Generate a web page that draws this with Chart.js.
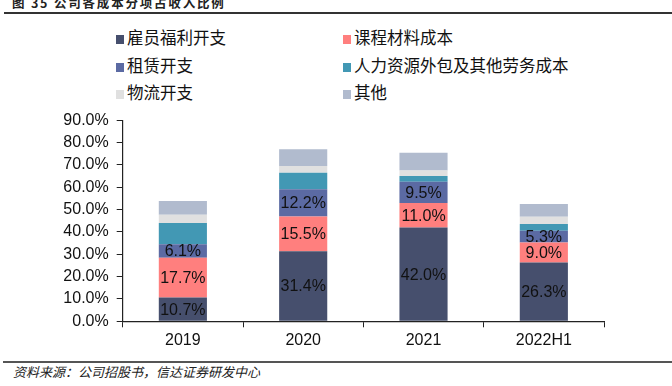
<!DOCTYPE html>
<html><head><meta charset="utf-8">
<script src="https://cdn.jsdelivr.net/npm/chart.js@4/dist/chart.umd.min.js"></script>
<style>
body{margin:0;width:672px;height:386px;background:#fff;position:relative;overflow:hidden;font-family:"Noto Sans CJK SC",sans-serif}
#title{position:absolute;left:12px;top:-4px;font-size:12.5px;font-weight:bold;color:#222;white-space:nowrap;line-height:14px;letter-spacing:1.8px}
#tline{position:absolute;left:4px;right:0;top:12px;height:1.5px;background:#333}
#fline{position:absolute;left:3px;right:0;top:361px;height:1.5px;background:#555}
#foot{position:absolute;left:13px;top:364px;font-size:13px;font-style:italic;color:#222;white-space:nowrap;line-height:16px}
.lg{position:absolute;font-size:16.5px;color:#111;white-space:nowrap;line-height:20px}
.lg i{display:inline-block;width:8px;height:9px;margin-right:3px;vertical-align:0px}
#c{position:absolute;left:0;top:100px}
</style></head>
<body>
<div id="title">图 35 公司各成本分项占收入比例</div>
<div id="tline"></div>
<div id="legend"></div>
<canvas id="c" width="672" height="260"></canvas>
<div id="fline"></div>
<div id="foot">资料来源：公司招股书，信达证券研发中心</div>
<script>
const categories = ['2019', '2020', '2021', '2022H1'];
const seriesNames = ['雇员福利开支', '课程材料成本', '租赁开支', '人力资源外包及其他劳务成本', '物流开支', '其他'];
const employeeBenefits = [10.7, 31.4, 42.0, 26.3];
const courseMaterials = [17.7, 15.5, 11.0, 9.0];
const leaseExpenses = [6.1, 12.2, 9.5, 5.3];
const hrOutsourcing = [9.5, 7.4, 2.6, 3.0];
const logistics = [3.7, 3.0, 2.4, 3.2];
const others = [6.2, 7.5, 8.0, 5.7];
const yTicks = [0, 10, 20, 30, 40, 50, 60, 70, 80, 90];
const labeledSeries = [0, 1, 2];

const seriesValues = [employeeBenefits, courseMaterials, leaseExpenses, hrOutsourcing, logistics, others];
const colors = ['#464F6D', '#FF7F7E', '#5B6AA3', '#4298B4', '#E0E0E0', '#B1BBCE'];

// legend (2 columns)
const legendPos = [[116, 27], [343, 27], [116, 55], [343, 55], [116, 82], [343, 82]];
const lg = document.getElementById('legend');
seriesNames.forEach((n, i) => {
  const d = document.createElement('div');
  d.className = 'lg';
  d.style.left = legendPos[i][0] + 'px';
  d.style.top = legendPos[i][1] + 'px';
  d.innerHTML = '<i style="background:' + colors[i] + '"></i>' + n;
  lg.appendChild(d);
});

const labelPlugin = {
  id: 'segLabels',
  afterDatasetsDraw(chart) {
    const ctx = chart.ctx;
    ctx.save();
    ctx.font = '16px "Liberation Sans", Arial, sans-serif';
    ctx.fillStyle = '#111';
    ctx.textAlign = 'center';
    ctx.textBaseline = 'middle';
    labeledSeries.forEach(di => {
      const meta = chart.getDatasetMeta(di);
      meta.data.forEach((el, j) => {
        const v = chart.data.datasets[di].data[j];
        ctx.fillText(v.toFixed(1) + '%', el.x, (el.y + el.base) / 2 + 1);
      });
    });
    ctx.restore();
  }
};

new Chart(document.getElementById('c'), {
  type: 'bar',
  data: {
    labels: categories,
    datasets: seriesValues.map((vals, i) => ({
      label: seriesNames[i],
      data: vals,
      backgroundColor: colors[i],
      borderWidth: 0,
      barPercentage: 0.8,
      categoryPercentage: 0.5
    }))
  },
  options: {
    responsive: false,
    animation: false,
    layout: { padding: { top: 20.3, right: 68, left: 0, bottom: 0 } },
    plugins: { legend: { display: false }, tooltip: { enabled: false } },
    scales: {
      x: {
        stacked: true,
        grid: { drawOnChartArea: false, drawTicks: true, tickLength: 6, color: '#222', offset: true },
        border: { color: '#222', width: 1.2 },
        ticks: { font: { size: 16, family: '"Liberation Sans", Arial' }, color: '#111', padding: 4 },
        afterFit: s => { s.height = 38.7; }
      },
      y: {
        stacked: true,
        min: 0, max: 90,
        afterBuildTicks: s => { s.ticks = yTicks.map(v => ({ value: v })); },
        grid: { drawOnChartArea: false, drawTicks: true, tickLength: 6, color: '#222' },
        border: { color: '#222', width: 1.2 },
        ticks: { font: { size: 16, family: '"Liberation Sans", Arial' }, color: '#111', padding: 8, callback: v => v.toFixed(1) + '%' },
        afterFit: s => { s.width = 122.7; }
      }
    }
  },
  plugins: [labelPlugin]
});
</script>
</body></html>
